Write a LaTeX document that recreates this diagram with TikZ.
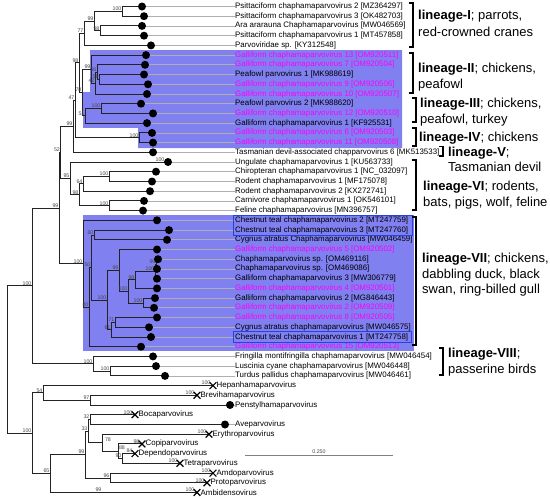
\documentclass[tikz,border=0pt]{standalone}
\usepackage{fontspec}
\setmainfont{Liberation Sans}
\usetikzlibrary{shapes.misc}
\definecolor{boxfill}{RGB}{128,128,240}
\definecolor{mag}{RGB}{255,0,255}
\definecolor{outl}{RGB}{30,70,230}
\definecolor{treec}{RGB}{35,35,35}
\definecolor{extc}{RGB}{175,175,175}
\definecolor{labc}{RGB}{70,70,70}
\newcommand\kids[3]{\draw[branch] (#1) |- (#2); \draw[branch] (#1) |- (#3);}
\begin{document}
\begin{tikzpicture}[x=1pt,y=-1pt,
 branch/.style={draw=treec,line width=0.9pt},
 ext/.style={draw=extc,line width=0.7pt},
 lt/.style={anchor=west,inner sep=0.5pt,font=\fontsize{7.9}{9}\selectfont},
 ltm/.style={lt,text=mag},
 bl/.style={anchor=south east,inner sep=0.4pt,font=\fontsize{5.3}{6}\selectfont,text=labc},
 xmark/.style={draw=black,cross out,minimum size=5.5pt,inner sep=0pt,line width=1.2pt},
 lin/.style={anchor=base west,inner sep=0pt,font=\fontsize{13}{15}\selectfont},
 brk/.style={draw=black,line width=1.1pt},
 outbox/.style={draw=outl,line width=0.9pt},
 scalebar/.style={draw=gray,line width=0.9pt}]
\fill[white] (0,0) rectangle (550,499);
\useasboundingbox (0,0) rectangle (550,499);
% highlight boxes
\fill[boxfill] (90,50) -- (402,50) -- (402,148) -- (138,148) -- (138,127.8) -- (83,127.8) -- (83,92) -- (90,92) -- cycle;
\fill[boxfill] (83,215) rectangle (414,351);
% leaves
\coordinate (L0) at (142,6.5);
\coordinate (L1) at (144,16.2);
\coordinate (L2) at (142,25.9);
\coordinate (L3) at (144,35.7);
\coordinate (L4) at (151,45.4);
\coordinate (L5) at (146,55.1);
\coordinate (L6) at (145,64.8);
\coordinate (L7) at (144,74.5);
\coordinate (L8) at (148,84.3);
\coordinate (L9) at (147,94.0);
\coordinate (L10) at (141,103.7);
\coordinate (L11) at (153,113.4);
\coordinate (L12) at (147,123.1);
\coordinate (L13) at (152,132.9);
\coordinate (L14) at (153,142.6);
\coordinate (L15) at (153,152.3);
\coordinate (L16) at (168,162.0);
\coordinate (L17) at (156,171.7);
\coordinate (L18) at (152,181.5);
\coordinate (L19) at (150,191.2);
\coordinate (L20) at (144,200.9);
\coordinate (L21) at (143,210.6);
\coordinate (L22) at (157,220.3);
\coordinate (L23) at (169,230.1);
\coordinate (L24) at (167,239.8);
\coordinate (L25) at (157,249.5);
\coordinate (L26) at (158,259.2);
\coordinate (L27) at (157,268.9);
\coordinate (L28) at (157,278.7);
\coordinate (L29) at (157,288.4);
\coordinate (L30) at (155,298.1);
\coordinate (L31) at (154,307.8);
\coordinate (L32) at (157,317.5);
\coordinate (L33) at (149,327.3);
\coordinate (L34) at (151,337.0);
\coordinate (L35) at (141,346.7);
\coordinate (L36) at (153,356.4);
\coordinate (L37) at (156,366.1);
\coordinate (L38) at (165,375.9);
\coordinate (L39) at (213,385.6);
\coordinate (L40) at (197,395.3);
\coordinate (L41) at (230,405.0);
\coordinate (L42) at (135,414.7);
\coordinate (L43) at (225,424.5);
\coordinate (L44) at (209,434.2);
\coordinate (L45) at (142,443.9);
\coordinate (L46) at (135,453.6);
\coordinate (L47) at (180,463.3);
\coordinate (L48) at (213,473.1);
\coordinate (L49) at (207,482.8);
\coordinate (L50) at (197,492.5);
% internal nodes
\coordinate (nA) at (122,11.35);
\coordinate (nB) at (100,30.8);
\coordinate (nC) at (94,21.08);
\coordinate (nD) at (84,33.24);
\coordinate (P1) at (99,79.4);
\coordinate (P2) at (97,72.1);
\coordinate (P3) at (95,83.05);
\coordinate (P4) at (91,69.08);
\coordinate (Q1) at (101,108.55);
\coordinate (Q2) at (85,115.83);
\coordinate (S1) at (82,92.45);
\coordinate (N98) at (79,62.85);
\coordinate (R1) at (139,137.75);
\coordinate (N47) at (75,100.3);
\coordinate (N99b) at (73,126.3);
\coordinate (V6a) at (109,176.6);
\coordinate (V6b) at (83,183.9);
\coordinate (V6c) at (109,205.75);
\coordinate (V6d) at (79,194.8);
\coordinate (V6r) at (70,178.4);
\coordinate (N52) at (60.5,152.35);
\coordinate (V1) at (94,234.95);
\coordinate (W1) at (156,264.05);
\coordinate (W2) at (155,271.4);
\coordinate (W3) at (135,279.9);
\coordinate (W5) at (143,302.95);
\coordinate (W4) at (128,291.4);
\coordinate (W6) at (119,270.45);
\coordinate (Z1) at (115,322.4);
\coordinate (Z2) at (111,329.7);
\coordinate (W7) at (107,300.1);
\coordinate (N50) at (91,267.5);
\coordinate (N80) at (89,307.1);
\coordinate (R7) at (83,263.7);
\coordinate (N99c) at (59,208.0);
\coordinate (U1) at (110,371.0);
\coordinate (U2) at (93,363.7);
\coordinate (N100a) at (32,285.85);
\coordinate (N97) at (90,400.15);
\coordinate (N54) at (43,392.9);
\coordinate (T1) at (90,419.6);
\coordinate (N90) at (122,458.45);
\coordinate (N88) at (118,451.2);
\coordinate (N78) at (102,442.7);
\coordinate (N33) at (88,431.15);
\coordinate (N96) at (110,477.95);
\coordinate (N99d) at (85,454.55);
\coordinate (N65) at (50,473.5);
\coordinate (O1) at (32,433.2);
\coordinate (root) at (7,359.5);
% leaf texts
\node[lt] (T0) at (234.5,6.5) {Psittaciform chaphamaparvovirus 2 [MZ364297]};
\node[lt] (T1t) at (234.5,16.2) {Psittaciform chaphamaparvovirus 3 [OK482703]};
\node[lt] (T2) at (234.5,25.9) {Ara ararauna Chaphamaparvovirus [MW046569]};
\node[lt] (T3) at (234.5,35.7) {Psittaciform chaphamaparvovirus 1 [MT457858]};
\node[lt] (T4) at (234.5,45.4) {Parvoviridae sp. [KY312548]};
\node[ltm] (T5) at (234.5,55.1) {Galliform chaphamaparvovirus 13 [OM920511]};
\node[ltm] (T6) at (234.5,64.8) {Galliform chaphamaparvovirus 7 [OM920504]};
\node[lt] (T7) at (234.5,74.5) {Peafowl parvovirus 1 [MK988619]};
\node[ltm] (T8) at (234.5,84.3) {Galliform chaphamaparvovirus 9 [OM920506]};
\node[ltm] (T9) at (234.5,94.0) {Galliform chaphamaparvovirus 10 [OM920507]};
\node[lt] (T10) at (234.5,103.7) {Peafowl parvovirus 2 [MK988620]};
\node[ltm] (T11) at (234.5,113.4) {Galliform chaphamaparvovirus 12 [OM920510]};
\node[lt] (T12) at (234.5,123.1) {Galliform chaphamaparvovirus 1 [KF925531]};
\node[ltm] (T13) at (234.5,132.9) {Galliform chaphamaparvovirus 6 [OM920503]};
\node[ltm] (T14) at (234.5,142.6) {Galliform chaphamaparvovirus 11 [OM920508]};
\node[lt] (T15) at (234.5,152.3) {Tasmanian devil-associated chapparvovirus 6 [MK513533]};
\node[lt] (T16) at (234.5,162.0) {Ungulate chaphamaparvovirus 1 [KU563733]};
\node[lt] (T17) at (234.5,171.7) {Chiropteran chaphamaparvovirus 1 [NC\_032097]};
\node[lt] (T18) at (234.5,181.5) {Rodent chaphamaparvovirus 1 [MF175078]};
\node[lt] (T19) at (234.5,191.2) {Rodent chaphamaparvovirus 2 [KX272741]};
\node[lt] (T20) at (234.5,200.9) {Carnivore chaphamaparvovirus 1 [OK546101]};
\node[lt] (T21) at (234.5,210.6) {Feline chaphamaparvovirus [MN396757]};
\node[lt] (T22) at (234.5,220.3) {Chestnut teal chaphamaparvovirus 2 [MT247759]};
\node[lt] (T23) at (234.5,230.1) {Chestnut teal chaphamaparvovirus 3 [MT247760]};
\node[lt] (T24) at (234.5,239.8) {Cygnus atratus Chaphamaparvovirus [MW046459]};
\node[ltm] (T25) at (234.5,249.5) {Galliform chaphamaparvovirus 5 [OM920502]};
\node[lt] (T26) at (234.5,259.2) {Chaphamaparvovirus sp. [OM469116]};
\node[lt] (T27) at (234.5,268.9) {Chaphamaparvovirus sp. [OM469086]};
\node[lt] (T28) at (234.5,278.7) {Galliform chaphamaparvovirus 3 [MW306779]};
\node[ltm] (T29) at (234.5,288.4) {Galliform chaphamaparvovirus 4 [OM920501]};
\node[lt] (T30) at (234.5,298.1) {Galliform chaphamaparvovirus 2 [MG846443]};
\node[ltm] (T31) at (234.5,307.8) {Galliform chaphamaparvovirus 2 [OM920509]};
\node[ltm] (T32) at (234.5,317.5) {Galliform chaphamaparvovirus 8 [OM920505]};
\node[lt] (T33) at (234.5,327.3) {Cygnus atratus chaphamaparvovirus [MW046575]};
\node[lt] (T34) at (234.5,337.0) {Chestnut teal chaphamaparvovirus 1 [MT247758]};
\node[ltm] (T35) at (234.5,346.7) {Galliform chaphamaparvovirus 15 [OM920513]};
\node[lt] (T36) at (234.5,356.4) {Fringilla montifringilla chaphamaparvovirus [MW046454]};
\node[lt] (T37) at (234.5,366.1) {Luscinia cyane chaphamaparvovirus [MW046448]};
\node[lt] (T38) at (234.5,375.9) {Turdus pallidus chaphamaparvovirus [MW046461]};
\node[lt] (T39) at (216,385.6) {Hepanhamaparvovirus};
\node[lt] (T40) at (200,395.3) {Brevihamaparvovirus};
\node[lt] (T41) at (234.5,405.0) {Penstylhamaparvovirus};
\node[lt] (T42) at (138,414.7) {Bocaparvovirus};
\node[lt] (T43) at (234.5,424.5) {Aveparvovirus};
\node[lt] (T44) at (212,434.2) {Erythroparvovirus};
\node[lt] (T45) at (145,443.9) {Copiparvovirus};
\node[lt] (T46) at (138,453.6) {Dependoparvovirus};
\node[lt] (T47) at (183,463.3) {Tetraparvovirus};
\node[lt] (T48) at (216,473.1) {Amdoparvovirus};
\node[lt] (T49) at (210,482.8) {Protoparvovirus};
\node[lt] (T50) at (200,492.5) {Ambidensovirus};
% grey extensions
\draw[ext] (L0) -- (T0.west);
\draw[ext] (L1) -- (T1t.west);
\foreach \k in {2,...,38} \draw[ext] (L\k) -- (T\k.west);
\draw[ext] (L41) -- (T41.west);
\draw[ext] (L43) -- (T43.west);
% tree
\kids{nA}{L0}{L1}
\kids{nB}{L2}{L3}
\kids{nC}{nA}{nB}
\kids{nD}{nC}{L4}
\kids{P1}{L7}{L8}
\kids{P2}{L6}{P1}
\kids{P3}{P2}{L9}
\kids{P4}{L5}{P3}
\kids{Q1}{L10}{L11}
\kids{Q2}{Q1}{L12}
\kids{S1}{P4}{Q2}
\kids{N98}{nD}{S1}
\kids{R1}{L13}{L14}
\kids{N47}{N98}{R1}
\kids{N99b}{N47}{L15}
\kids{V6a}{L17}{L18}
\kids{V6b}{V6a}{L19}
\kids{V6c}{L20}{L21}
\kids{V6d}{V6b}{V6c}
\kids{V6r}{L16}{V6d}
\kids{N52}{N99b}{V6r}
\kids{V1}{L23}{L24}
\kids{W1}{L26}{L27}
\kids{W2}{W1}{L28}
\kids{W3}{W2}{L29}
\kids{W5}{L30}{L31}
\kids{W4}{W3}{W5}
\kids{W6}{L25}{W4}
\kids{Z1}{L32}{L33}
\kids{Z2}{Z1}{L34}
\kids{W7}{W6}{Z2}
\kids{N50}{V1}{W7}
\kids{N80}{N50}{L35}
\kids{R7}{L22}{N80}
\kids{N99c}{N52}{R7}
\kids{U1}{L37}{L38}
\kids{U2}{L36}{U1}
\kids{N100a}{N99c}{U2}
\kids{N97}{L40}{L41}
\kids{N54}{L39}{N97}
\kids{T1}{L42}{L43}
\kids{N90}{L46}{L47}
\kids{N88}{L45}{N90}
\kids{N78}{L44}{N88}
\kids{N33}{T1}{N78}
\kids{N96}{L48}{L49}
\kids{N99d}{N33}{N96}
\kids{N65}{N99d}{L50}
\kids{O1}{N54}{N65}
\kids{root}{N100a}{O1}
% support labels
\node[bl] (b1) at (nA) {100};
\node[bl] (b2) at (nB) {98};
\node[bl] (b3) at (nC) {99};
\node[bl] (b4) at (nD) {77};
\node[bl] (b5) at (N98) {98};
\node[bl] (b6) at (N47) {47};
\node[bl] (b7) at (P4) {99};
\node[bl] (b8) at (P2) {96};
\node[bl] (b9) at (P1) {51};
\node[bl] (b10) at (P3) {42};
\node[bl] (b11) at (Q1) {100};
\node[bl] (b12) at (Q2) {51};
\node[bl] (b13) at (S1) {78};
\node[bl] (b14) at (R1) {100};
\node[bl] (b15) at (N99b) {99};
\node[bl] (b16) at (N52) {52};
\node[bl] (b17) at (V6r) {95};
\node[bl] (b18) at (V6a) {100};
\node[bl] (b19) at (V6b) {64};
\node[bl] (b20) at (V6d) {98};
\node[bl] (b21) at (V6c) {100};
\node[bl] (b22) at (165,162) {100};
\node[bl] (b23) at (N99c) {99};
\node[bl] (b24) at (R7) {100};
\node[bl] (b25) at (V1) {60};
\node[bl] (b26) at (N50) {50};
\node[bl] (b27) at (N80) {80};
\node[bl] (b28) at (W6) {99};
\node[bl] (b29) at (W1) {96};
\node[bl] (b30) at (W2) {100};
\node[bl] (b31) at (W3) {98};
\node[bl] (b32) at (W4) {100};
\node[bl] (b33) at (W5) {100};
\node[bl] (b34) at (W7) {100};
\node[bl] (b35) at (Z1) {71};
\node[bl] (b36) at (Z2) {61};
\node[bl] (b37) at (N100a) {100};
\node[bl] (b38) at (U2) {100};
\node[bl] (b39) at (U1) {100};
\node[bl] (b40) at (211,385.6) {100};
\node[bl] (b41) at (N54) {54};
\node[bl] (b42) at (N97) {97};
\node[bl] (b43) at (195,395.3) {100};
\node[bl] (b44) at (133,414.7) {100};
\node[bl] (b45) at (T1) {32};
\node[bl] (b46) at (N33) {33};
\node[bl] (b47) at (O1) {100};
\node[bl] (b48) at (207,434.2) {100};
\node[bl] (b49) at (111.5,442) {78};
\node[bl] (b50) at (140,443.9) {98};
\node[bl] (b51) at (125.5,450) {88};
\node[bl] (b52) at (133,453.6) {84};
\node[bl] (b53) at (N99d) {99};
\node[bl] (b54) at (N90) {90};
\node[bl] (b55) at (178,463.3) {100};
\node[bl] (b56) at (211,473.1) {100};
\node[bl] (b57) at (N96) {96};
\node[bl] (b58) at (N65) {65};
\node[bl] (b59) at (205,482.8) {100};
\node[bl] (b60) at (195,492.5) {100};
\node[bl] (b61) at (102,492.5) {99};
% dots and crosses
\foreach \k in {0,...,38} \fill (L\k) circle[radius=4pt];
\fill (L41) circle[radius=4pt];
\fill (L43) circle[radius=4pt];
\foreach \k in {39,40,42,44,45,46,47,48,49,50} \node[xmark] (X\k) at (L\k) {};
% outline boxes
\draw[outbox] (233,215.3) rectangle (412,235.3);
\draw[outbox] (233,331.5) rectangle (411,342.5);
% scale bar
\coordinate (sb1) at (245,455);
\coordinate (sb2) at (393,455);
\draw[scalebar] (sb1) -- (sb2);
\node[bl,anchor=south] (sbl) at (319,454) {0.250};
% brackets
\draw[brk] (409,3) -- (413,3) -- (413,47) -- (409,47);
\draw[brk] (409,53) -- (413,53) -- (413,93) -- (409,93);
\draw[brk] (412,98) -- (416,98) -- (416,122) -- (412,122);
\draw[brk] (412,128) -- (416,128) -- (416,146) -- (412,146);
\draw[brk] (439,146.5) -- (443,146.5) -- (443,156) -- (439,156);
\draw[brk] (412,160) -- (416,160) -- (416,210) -- (412,210);
\draw[brk] (412,217) -- (416,217) -- (416,345) -- (412,345);
\draw[brk] (439,348) -- (443,348) -- (443,375) -- (439,375);
% lineage texts
\node[lin] (g1a) at (418,19.7) {\textbf{lineage-I}; parrots,};
\node[lin] (g1b) at (418,36.2) {red-crowned cranes};
\node[lin] (g2a) at (418,72.7) {\textbf{lineage-II}; chickens,};
\node[lin] (g2b) at (418,88.2) {peafowl};
\node[lin] (g3a) at (420,107.7) {\textbf{lineage-III}; chickens,};
\node[lin] (g3b) at (420,123.2) {peafowl, turkey};
\node[lin] (g4a) at (419,141.7) {\textbf{lineage-IV}; chickens};
\node[lin] (g5a) at (448,156.7) {\textbf{lineage-V};};
\node[lin] (g5b) at (448,171.7) {Tasmanian devil};
\node[lin] (g6a) at (423,190.7) {\textbf{lineage-VI}; rodents,};
\node[lin] (g6b) at (423,206.2) {bats, pigs, wolf, feline};
\node[lin] (g7a) at (422,262.7) {\textbf{lineage-VII}; chickens,};
\node[lin] (g7b) at (422,278.2) {dabbling duck, black};
\node[lin] (g7c) at (422,293.7) {swan, ring-billed gull};
\node[lin] (g8a) at (448,357.7) {\textbf{lineage-VIII};};
\node[lin] (g8b) at (448,373.2) {passerine birds};
\end{tikzpicture}
\end{document}
